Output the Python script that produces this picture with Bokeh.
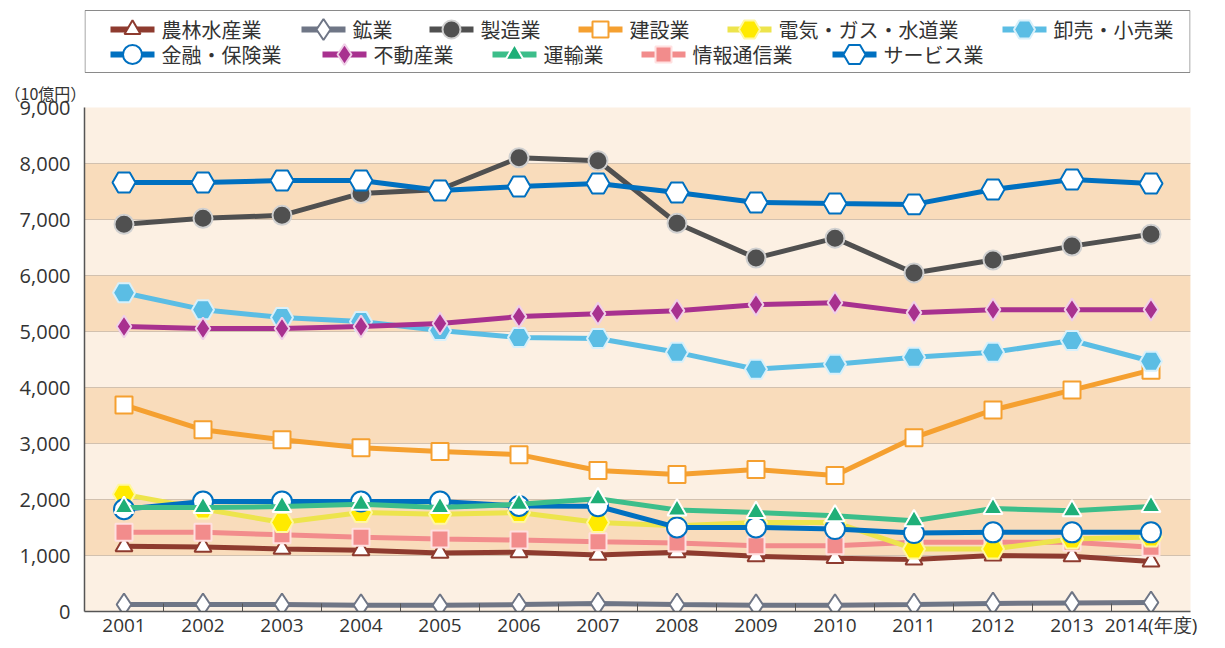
from bokeh.plotting import figure
from bokeh.layouts import column
from bokeh.models import FixedTicker, NumeralTickFormatter, BoxAnnotation, Range1d
from bokeh.embed import file_html
from bokeh.resources import INLINE

years = [2001, 2002, 2003, 2004, 2005, 2006, 2007, 2008, 2009, 2010, 2011, 2012, 2013, 2014]

agri      = [1165, 1153, 1117, 1094, 1046, 1058, 1011, 1058, 987, 952, 928, 998, 987, 892]
mining    = [124, 124, 124, 112, 112, 124, 142, 124, 112, 112, 124, 142, 154, 160]
manuf     = [6915, 7021, 7074, 7465, 7535, 8103, 8050, 6933, 6312, 6667, 6046, 6277, 6525, 6738]
constr    = [3688, 3245, 3067, 2926, 2855, 2801, 2518, 2447, 2535, 2429, 3103, 3599, 3954, 4309]
utility   = [2092, 1830, 1590, 1768, 1738, 1768, 1590, 1531, 1590, 1590, 1117, 1117, 1294, 1330]
retail    = [5691, 5390, 5248, 5177, 5018, 4894, 4876, 4628, 4326, 4415, 4539, 4628, 4840, 4468]
finance   = [1826, 1963, 1963, 1963, 1963, 1885, 1880, 1501, 1501, 1472, 1401, 1413, 1413, 1413]
realestate= [5089, 5053, 5053, 5089, 5142, 5266, 5319, 5372, 5479, 5514, 5337, 5390, 5390, 5390]
transport = [1856, 1856, 1874, 1915, 1856, 1915, 2015, 1814, 1768, 1708, 1619, 1838, 1797, 1874]
infocom   = [1413, 1413, 1371, 1324, 1294, 1277, 1247, 1223, 1176, 1176, 1235, 1235, 1235, 1147]
services  = [7660, 7660, 7695, 7695, 7518, 7589, 7642, 7482, 7305, 7287, 7270, 7535, 7713, 7642]

y_ticks = [0, 1000, 2000, 3000, 4000, 5000, 6000, 7000, 8000, 9000]
x_labels = [str(y) for y in years[:-1]] + ["2014(年度)"]
unit_label = "（10億円）"

FONT_JP = "Noto Sans CJK JP"
FONT_NUM = "Open Sans"

# name, values, line colour, marker, fill, outline, size
series = [
    ("農林水産業", agri, "#8E3B2F", "triangle", "white", "#8E3B2F", 17),
    ("鉱業", mining, "#6F7686", "diamond", "white", "#6F7686", 22),
    ("製造業", manuf, "#505050", "circle", "#505050", "#D0D0D0", 19),
    ("建設業", constr, "#F5A030", "square", "white", "#F5A030", 17),
    ("電気・ガス・水道業", utility, "#EDE44C", "hex", "#FFEA00", "#FFF7A0", 22),
    ("卸売・小売業", retail, "#5BBDE4", "hex", "#5BBDE4", "#D8F0FA", 22),
    ("金融・保険業", finance, "#0070C0", "circle", "white", "#0070C0", 20),
    ("不動産業", realestate, "#A8318F", "diamond", "#A8318F", "#F0D0E8", 22),
    ("運輸業", transport, "#3CBE8A", "triangle", "#1FAF78", "white", 19),
    ("情報通信業", infocom, "#F28C8C", "square", "#F28C8C", "#FFE0E0", 17),
    ("サービス業", services, "#0070C0", "hex", "white", "#0070C0", 23),
]

W = 1217
H = 640
LEG_H = 75
MAIN_H = H - LEG_H
BL, BR = 84, 27           # left / right borders (frame from 84 to 1190)

# ---------------- legend strip (x data = pixel x, y data = pixels from strip bottom) ----------------
pl = figure(width=W, height=LEG_H, output_backend="svg", toolbar_location=None,
            x_range=Range1d(BL, W - BR), y_range=Range1d(0, LEG_H), title=None,
            x_axis_type=None, y_axis_type=None,
            min_border_left=BL, min_border_right=BR, min_border_top=0, min_border_bottom=0)
pl.outline_line_color = None
pl.grid.visible = False
pl.background_fill_color = "white"
pl.border_fill_color = "white"

pl.quad(left=[BL + 0.5], right=[W - BR - 0.5], bottom=[3], top=[65], fill_color="white",
        line_color="#8A8A8A", line_width=1)

rows = [list(range(0, 6)), list(range(6, 11))]
row_y = [46, 21]
glyph_w, text_gap, char_w, item_gap = 44, 7, 21, 35
for r, idxs in enumerate(rows):
    x = 110
    y = row_y[r]
    for i in idxs:
        name, vals, lc, mk, fc, oc, sz = series[i]
        pl.line([x, x + glyph_w], [y, y], line_color=lc, line_width=6)
        pl.scatter([x + glyph_w / 2], [y], marker=mk, size=sz - 1, fill_color=fc,
                   line_color=oc, line_width=2)
        pl.text([x + glyph_w + text_gap], [y], text=[name], text_font_size="20px",
                text_color="#333333", text_baseline="middle", text_align="left",
                text_font={"value": FONT_JP})
        x += glyph_w + text_gap + char_w * len(name) + item_gap

# ---------------- main chart ----------------
p = figure(width=W, height=MAIN_H, output_backend="svg", toolbar_location=None,
           x_range=Range1d(2000.5, 2014.5), y_range=Range1d(0, 9000),
           min_border_left=BL, min_border_right=BR, min_border_top=30, min_border_bottom=27)
p.outline_line_color = None
p.background_fill_color = "#FCF0E3"
p.border_fill_color = "white"

p.title.text = unit_label
p.title.align = "left"
p.title.offset = -80
p.title.text_font = FONT_JP
p.title.text_font_size = "16px"
p.title.text_font_style = "normal"
p.title.text_color = "#333333"
p.title.standoff = 6

for lo in y_ticks[1:-1:2]:
    p.add_layout(BoxAnnotation(bottom=lo, top=lo + 1000, fill_color="#F9DCBB",
                               fill_alpha=1.0, line_color=None, level="underlay"))

p.ygrid.grid_line_color = "#ABA6A2"
p.ygrid.grid_line_width = 1
p.ygrid.level = "underlay"
p.xgrid.grid_line_color = None

p.yaxis.ticker = FixedTicker(ticks=y_ticks)
p.yaxis.formatter = NumeralTickFormatter(format="0,0")
p.yaxis.major_tick_line_color = None
p.yaxis.major_tick_out = 0
p.yaxis.minor_tick_line_color = None
p.yaxis.axis_line_color = "#555555"
p.yaxis.axis_line_width = 1.5
p.yaxis.major_label_text_font = FONT_NUM
p.yaxis.major_label_text_font_size = "20px"
p.yaxis.major_label_text_color = "#333333"
p.yaxis.major_label_standoff = 14

p.xaxis.ticker = FixedTicker(ticks=years, minor_ticks=[y + 0.5 for y in years[:-1]])
p.xaxis.major_label_overrides = {y: s for y, s in zip(years, x_labels)}
p.xaxis.major_tick_line_color = None
p.xaxis.major_tick_out = 0
p.xaxis.major_tick_in = 0
p.xaxis.minor_tick_in = 8
p.xaxis.minor_tick_out = 0
p.xaxis.minor_tick_line_color = "#555555"
p.xaxis.axis_line_color = "#555555"
p.xaxis.axis_line_width = 1.5
p.xaxis.major_label_text_font = FONT_NUM
p.xaxis.major_label_text_font_size = "19px"
p.xaxis.major_label_text_color = "#333333"
p.xaxis.major_label_standoff = 0

draw_order = [1, 0, 9, 4, 6, 8, 3, 5, 7, 2, 10]
for i in draw_order:
    name, vals, lc, mk, fc, oc, sz = series[i]
    p.line(years, vals, line_color=lc, line_width=5)
    p.scatter(years, vals, marker=mk, size=sz, fill_color=fc, line_color=oc, line_width=2)

layout = column(pl, p, spacing=0)
open("out.html", "w").write(file_html(layout, INLINE))
